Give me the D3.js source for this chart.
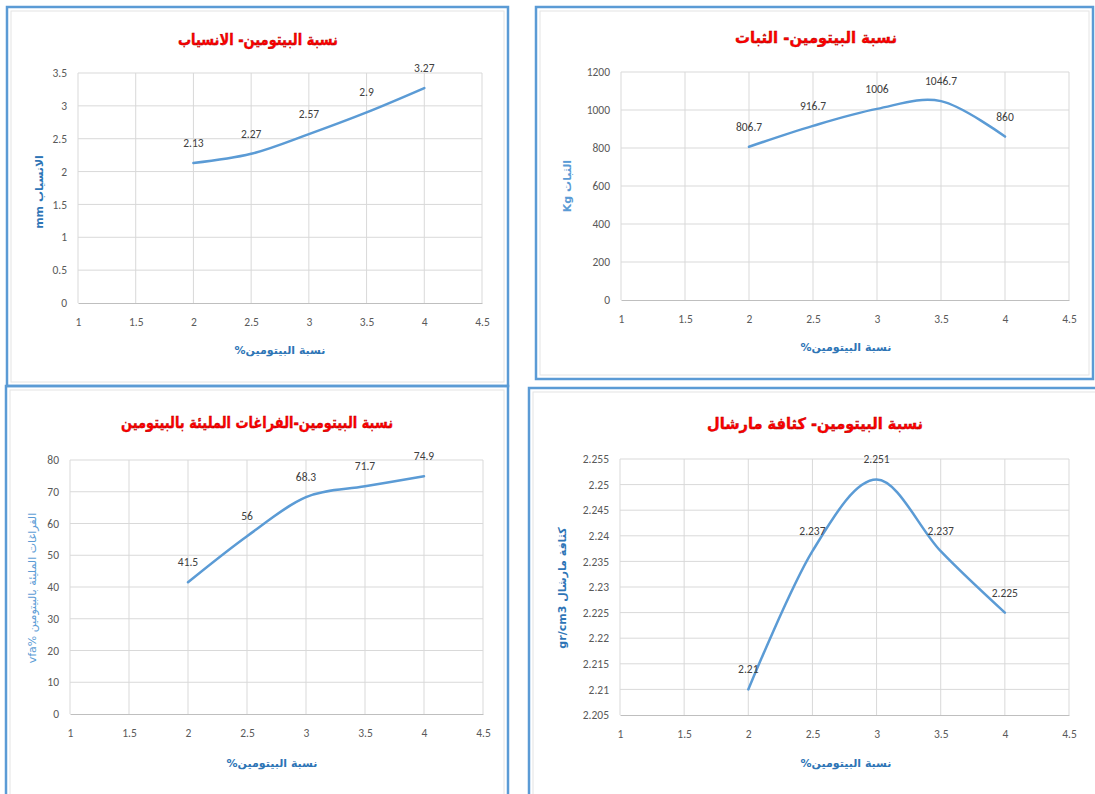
<!DOCTYPE html>
<html>
<head>
<meta charset="utf-8">
<script src="https://cdn.jsdelivr.net/npm/d3@7"></script>
<style>
  body { margin: 0; background: #fff; }
</style>
</head>
<body>
<svg id="chart" width="1095" height="794"></svg>
<script>
// bitumen content (%) on every x axis
const bitumen = [2, 2.5, 3, 3.5, 4];

// series
const flow = [2.13, 2.27, 2.57, 2.9, 3.27];
const stability = [806.7, 916.7, 1006, 1046.7, 860];
const vfa = [41.5, 56, 68.3, 71.7, 74.9];
const density = [2.21, 2.237, 2.251, 2.237, 2.225];

// tick values
const xTicks = [1, 1.5, 2, 2.5, 3, 3.5, 4, 4.5];
const flowTicks = [0, 0.5, 1, 1.5, 2, 2.5, 3, 3.5];
const stabilityTicks = [0, 200, 400, 600, 800, 1000, 1200];
const vfaTicks = [0, 10, 20, 30, 40, 50, 60, 70, 80];
const densityTicks = [2.205, 2.21, 2.215, 2.22, 2.225, 2.23, 2.235, 2.24, 2.245, 2.25, 2.255];

// texts
const titles = [
    "نسبة البيتومين- الانسياب",
    "نسبة البيتومين- الثبات",
    "نسبة البيتومين-الفراغات المليئة بالبيتومين",
    "نسبة البيتومين- كثافة مارشال"
];
const xTitle = "%نسبة البيتومين";
const yTitles = [
    "mm الانسياب",
    "Kg      الثبات",
    "vfa% الفراغات المليئة بالبيتومين",
    "gr/cm3 كثافة مارشال"
];

const svg = d3.select("#chart");
const numFont = "Carlito, 'Liberation Sans Narrow', 'Liberation Sans', sans-serif";
const arFont = "'DejaVu Sans', sans-serif";

// layout of the four panels (frame box, plot area, text anchors)
const panels = [
    { values: flow, yTicks: flowTicks, title: titles[0], yTitle: yTitles[0],
      box: [7, 7, 501, 379], plot: { left: 78, right: 482, top: 73, bottom: 303 },
      titlePos: [258, 45], titleWidth: 160, xTitlePos: [280, 354], yTitlePos: [39, 192],
      yTitleColor: "#2e75b6", yTitleWeight: "bold" },
    { values: stability, yTicks: stabilityTicks, title: titles[1], yTitle: yTitles[1],
      box: [536, 7, 557, 372], plot: { left: 621, right: 1069, top: 72, bottom: 300 },
      titlePos: [816, 43], titleWidth: 162, xTitlePos: [846, 351], yTitlePos: [567, 186],
      yTitleColor: "#5b9bd5", yTitleWeight: "bold" },
    { values: vfa, yTicks: vfaTicks, title: titles[2], yTitle: yTitles[2],
      box: [6, 386, 502, 430], plot: { left: 70, right: 483, top: 460, bottom: 714 },
      titlePos: [257, 428], titleWidth: 272, xTitlePos: [272, 767], yTitlePos: [32, 588],
      yTitleColor: "#5b9bd5", yTitleWeight: "normal" },
    { values: density, yTicks: densityTicks, title: titles[3], yTitle: yTitles[3],
      box: [529, 388, 600, 430], plot: { left: 620, right: 1069, top: 459, bottom: 715 },
      titlePos: [815, 429], titleWidth: 216, xTitlePos: [846, 767], yTitlePos: [562, 588],
      yTitleColor: "#2e75b6", yTitleWeight: "bold" }
];

const drawPanel = (p) => {
    const g = svg.append("g");

    // faint inner chart-area frame, then the blue outer frame
    g.append("rect")
        .attr("x", p.box[0] + 4).attr("y", p.box[1] + 4)
        .attr("width", p.box[2] - 8).attr("height", p.box[3] - 8)
        .attr("fill", "#fff").attr("stroke", "#e4e4e4").attr("stroke-width", 1);
    g.append("rect")
        .attr("x", p.box[0]).attr("y", p.box[1])
        .attr("width", p.box[2]).attr("height", p.box[3])
        .attr("fill", "none").attr("stroke", "#5b9bd5").attr("stroke-width", 2.5);

    const x = d3.scaleLinear().domain([1, 4.5]).range([p.plot.left, p.plot.right]);
    const y = d3.scaleLinear()
        .domain([p.yTicks[0], p.yTicks[p.yTicks.length - 1]])
        .range([p.plot.bottom, p.plot.top]);

    // gridlines
    g.append("g").selectAll("line").data(p.yTicks.slice(1)).join("line")
        .attr("x1", p.plot.left).attr("x2", p.plot.right)
        .attr("y1", d => y(d)).attr("y2", d => y(d))
        .attr("stroke", "#d9d9d9").attr("stroke-width", 1);
    g.append("g").selectAll("line").data(xTicks).join("line")
        .attr("x1", d => x(d)).attr("x2", d => x(d))
        .attr("y1", p.plot.top).attr("y2", p.plot.bottom)
        .attr("stroke", "#d9d9d9").attr("stroke-width", 1);

    // axes
    const xAxis = g.append("g")
        .attr("transform", "translate(0," + p.plot.bottom + ")")
        .call(d3.axisBottom(x).tickValues(xTicks).tickSize(0).tickPadding(15).tickFormat(d => String(d)));
    xAxis.select(".domain").attr("stroke", "#bfbfbf").attr("stroke-width", 1.2);

    const yAxis = g.append("g")
        .attr("transform", "translate(" + p.plot.left + ",0)")
        .call(d3.axisLeft(y).tickValues(p.yTicks).tickSize(0).tickPadding(11).tickFormat(d => String(d)));
    yAxis.select(".domain").remove();

    g.selectAll(".tick text")
        .attr("fill", "#595959")
        .style("font-family", numFont)
        .style("font-size", "11.5px");

    // smoothed series line
    const pts = bitumen.map((b, i) => [b, p.values[i]]);
    const line = d3.line()
        .x(d => x(d[0]))
        .y(d => y(d[1]))
        .curve(d3.curveCardinal.tension(0));
    g.append("path")
        .datum(pts)
        .attr("d", line)
        .attr("fill", "none")
        .attr("stroke", "#5b9bd5")
        .attr("stroke-width", 2.5)
        .attr("stroke-linecap", "round");

    // data labels
    g.append("g").selectAll("text").data(pts).join("text")
        .attr("x", d => x(d[0]))
        .attr("y", d => y(d[1]) - 16)
        .attr("text-anchor", "middle")
        .attr("fill", "#404040")
        .style("font-family", numFont)
        .style("font-size", "11.5px")
        .text(d => String(d[1]));

    // chart title
    g.append("text")
        .attr("x", p.titlePos[0]).attr("y", p.titlePos[1])
        .attr("text-anchor", "middle")
        .attr("textLength", p.titleWidth)
        .attr("lengthAdjust", "spacingAndGlyphs")
        .attr("fill", "#ff0000")
        .attr("stroke", "#b00000").attr("stroke-width", 0.4)
        .style("font-family", arFont)
        .style("font-weight", "bold")
        .style("font-size", "15.5px")
        .text(p.title);

    // x axis title
    g.append("text")
        .attr("x", p.xTitlePos[0]).attr("y", p.xTitlePos[1])
        .attr("text-anchor", "middle")
        .attr("fill", "#2e75b6")
        .style("font-family", arFont)
        .style("font-weight", "bold")
        .style("font-size", "11px")
        .text(xTitle);

    // y axis title
    g.append("text")
        .attr("transform", "translate(" + p.yTitlePos[0] + "," + p.yTitlePos[1] + ") rotate(-90)")
        .attr("text-anchor", "middle")
        .attr("dy", "0.35em")
        .attr("fill", p.yTitleColor)
        .style("font-family", arFont)
        .style("font-weight", p.yTitleWeight)
        .style("font-size", "11px")
        .text(p.yTitle);
};

panels.forEach(drawPanel);
</script>
</body>
</html>
